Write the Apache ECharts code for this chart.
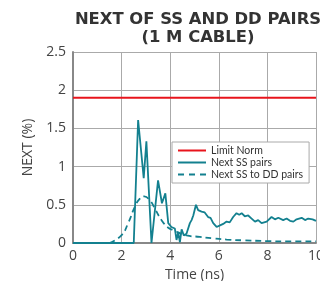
<!DOCTYPE html>
<html>
<head>
<meta charset="utf-8">
<style>
  html, body { margin: 0; padding: 0; background: #fff; }
  #chart { width: 320px; height: 281px; }
</style>
<script src="https://cdn.jsdelivr.net/npm/echarts@6/dist/echarts.min.js"></script>
</head>
<body>
<div id="chart"></div>
<script>
// values
var limitNorm = [[0, 1.9], [10, 1.9]];

var ssPairs = [
  [0, 0], [2.5, 0], [2.68, 1.61], [2.91, 0.85], [3.02, 1.33], [3.23, 0],
  [3.5, 0.82], [3.66, 0.52], [3.8, 0.65], [3.92, 0.26], [4.05, 0.21], [4.19, 0.19],
  [4.26, 0.04], [4.33, 0.14], [4.4, 0.01], [4.47, 0.18], [4.56, 0.1], [4.67, 0.12],
  [4.81, 0.26], [4.88, 0.3], [4.95, 0.36], [5.06, 0.5], [5.15, 0.43], [5.29, 0.41],
  [5.42, 0.4], [5.56, 0.34], [5.66, 0.33], [5.77, 0.26], [5.91, 0.21], [6.05, 0.23],
  [6.18, 0.25], [6.32, 0.28], [6.45, 0.27], [6.59, 0.34], [6.73, 0.39], [6.84, 0.37],
  [6.94, 0.39], [7.07, 0.35], [7.21, 0.36], [7.35, 0.32], [7.49, 0.28], [7.62, 0.3],
  [7.76, 0.26], [7.97, 0.28], [8.17, 0.34], [8.31, 0.31], [8.45, 0.33], [8.65, 0.3],
  [8.79, 0.32], [8.93, 0.29], [9.07, 0.28], [9.2, 0.31], [9.41, 0.33], [9.55, 0.3],
  [9.68, 0.32], [9.86, 0.31], [10, 0.29]
];

var ssToDd = [
  [1.5, 0], [1.99, 0.1], [2.27, 0.26], [2.54, 0.47], [2.75, 0.58], [2.93, 0.61],
  [3.16, 0.56], [3.37, 0.45], [3.64, 0.3], [3.92, 0.2], [4.12, 0.17], [4.67, 0.1],
  [5.22, 0.08], [5.77, 0.06], [6.32, 0.045], [7, 0.035], [8, 0.025], [9, 0.02], [10, 0.02]
];

var xTicks = [0, 2, 4, 6, 8, 10];
var yTicks = [0, 0.5, 1, 1.5, 2, 2.5];

var red = '#e8141c';
var teal = '#13808f';
var labelFont = 'Open Sans';

// legend icons: a plain line and a dashed line
var solidIcon = 'path://M0,0h28v2h-28z';
var dashIcon = 'path://M0,0h6v2h-6z M11,0h6v2h-6z M22,0h6v2h-6z';

var chart = echarts.init(document.getElementById('chart'), null, { renderer: 'canvas' });

var option = {
  animation: false,
  title: {
    text: 'NEXT OF SS AND DD PAIRS\n(1 M CABLE)',
    left: 193,
    top: 6,
    textAlign: 'center',
    textStyle: {
      fontFamily: 'DejaVu Sans',
      fontSize: 16.4,
      fontWeight: 'bold',
      color: '#333',
      lineHeight: 18
    }
  },
  grid: { left: 73, right: 4, top: 52, bottom: 38, outerBoundsMode: 'none' },
  legend: {
    orient: 'vertical',
    left: 172,
    top: 142,
    backgroundColor: '#fff',
    borderColor: '#aaa',
    borderWidth: 1,
    borderRadius: 0,
    padding: [3, 6, 3, 6],
    itemWidth: 28,
    itemHeight: 2,
    itemGap: 1,
    itemTextGap: 7,
    textStyle: { fontFamily: 'Lato', fontSize: 10.5, color: '#333' },
    data: [
      { name: 'Limit Norm', icon: solidIcon, itemStyle: { color: red } },
      { name: 'Next SS pairs', icon: solidIcon, itemStyle: { color: teal } },
      { name: 'Next SS to DD pairs', icon: dashIcon, itemStyle: { color: teal } }
    ]
  },
  xAxis: {
    type: 'value',
    min: 0,
    max: 10,
    interval: 2,
    name: 'Time (ns)',
    nameLocation: 'middle',
    nameGap: 22,
    nameTextStyle: { fontFamily: labelFont, fontSize: 14, color: '#444' },
    axisLine: { lineStyle: { color: '#888', width: 2 } },
    axisTick: { show: false },
    axisLabel: {
      fontFamily: labelFont, fontSize: 14, color: '#444', margin: 6,
      formatter: function (v) { return xTicks.indexOf(v) >= 0 ? String(v) : ''; }
    },
    splitLine: { show: true, lineStyle: { color: '#aaa', width: 1 } }
  },
  yAxis: {
    type: 'value',
    min: 0,
    max: 2.5,
    interval: 0.5,
    name: 'NEXT (%)',
    nameLocation: 'middle',
    nameGap: 30,
    nameTextStyle: { fontFamily: labelFont, fontSize: 14, color: '#444' },
    axisLine: { show: true, lineStyle: { color: '#888', width: 2 } },
    axisTick: { show: false },
    axisLabel: {
      fontFamily: labelFont, fontSize: 14, color: '#444', margin: 7,
      formatter: function (v) { return yTicks.indexOf(v) >= 0 ? String(v) : ''; }
    },
    splitLine: { show: true, lineStyle: { color: '#aaa', width: 1 } }
  },
  series: [
    {
      name: 'Limit Norm',
      type: 'line',
      data: limitNorm,
      symbol: 'none',
      itemStyle: { color: red },
      lineStyle: { color: red, width: 2 },
      z: 3
    },
    {
      name: 'Next SS pairs',
      type: 'line',
      data: ssPairs,
      symbol: 'none',
      itemStyle: { color: teal },
      lineStyle: { color: teal, width: 1.8 },
      z: 4
    },
    {
      name: 'Next SS to DD pairs',
      type: 'line',
      data: ssToDd,
      symbol: 'none',
      smooth: true,
      itemStyle: { color: teal },
      lineStyle: { color: teal, width: 1.8, type: [6, 4] },
      z: 3
    }
  ]
};

chart.setOption(option);
window.addEventListener('resize', chart.resize);
</script>
</body>
</html>
